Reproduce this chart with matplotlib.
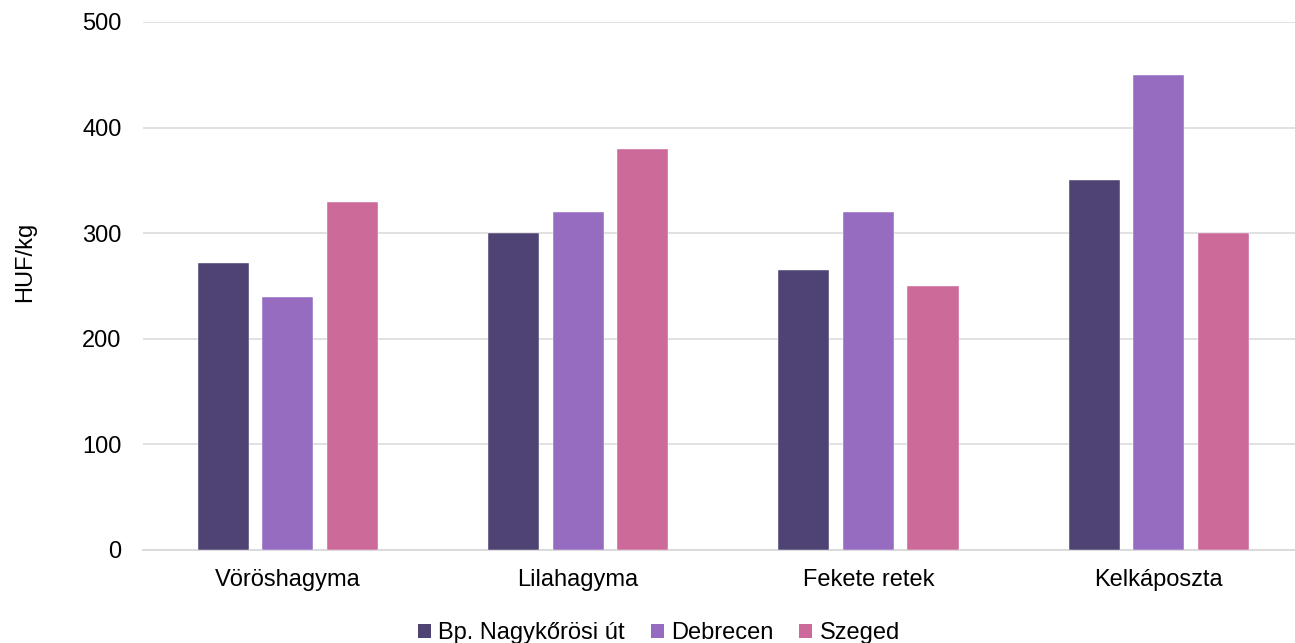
import matplotlib.pyplot as plt
import numpy as np
from matplotlib.patches import Patch

plt.rcParams['font.family'] = ['Liberation Sans', 'DejaVu Sans']

categories = ["Vöröshagyma", "Lilahagyma", "Fekete retek", "Kelkáposzta"]
series_names = ["Bp. Nagykőrösi út", "Debrecen", "Szeged"]
bp = [272, 300, 265, 350]
debrecen = [240, 320, 320, 450]
szeged = [330, 380, 250, 300]
colors = ["#4E4373", "#966CC0", "#CC6A99"]

W, H = 1295, 643
fig = plt.figure(figsize=(W / 100, H / 100), dpi=100)
left, right = 142.5, 1295
ax = fig.add_axes((left / W, (H - 550) / H, (right - left) / W, 528 / H))

x = np.arange(len(categories))
step = 64.5 / 290
width = 51 / 290
for i, (vals, name) in enumerate(zip([bp, debrecen, szeged], series_names)):
    ax.bar(x + (i - 1) * step, vals, width, color=colors[i], label=name,
           edgecolor="white", linewidth=0.3, zorder=3)

ax.set_xlim(-0.5, 3.5 - 9 / 290)
ax.set_ylim(0, 500)
ax.set_yticks(range(0, 501, 100))
ax.set_xticks(x)
ax.set_xticklabels(categories)
ax.grid(axis="y", color="#D9D9D9", linewidth=1.1, zorder=0)
for s in ["top", "right", "left"]:
    ax.spines[s].set_visible(False)
ax.spines["bottom"].set_color("#D9D9D9")
ax.spines["bottom"].set_linewidth(1.3)
ax.tick_params(axis="both", length=0, labelsize=17, colors="#000000")
ax.tick_params(axis="y", pad=15)
ax.tick_params(axis="x", pad=14)

fig.text(25 / W, 1 - 262 / H, "HUF/kg", rotation=90, ha="center", va="center", fontsize=17)

handles = [Patch(facecolor=c, label=n) for c, n in zip(colors, series_names)]
fig.legend(handles=handles, loc="center", bbox_to_anchor=(659 / W, 1 - 633 / H),
           ncol=3, frameon=False, fontsize=17, handlelength=0.55, handleheight=0.55,
           handletextpad=0.3, columnspacing=1.1, borderpad=0, borderaxespad=0)

fig.savefig("out.png", dpi=100)
